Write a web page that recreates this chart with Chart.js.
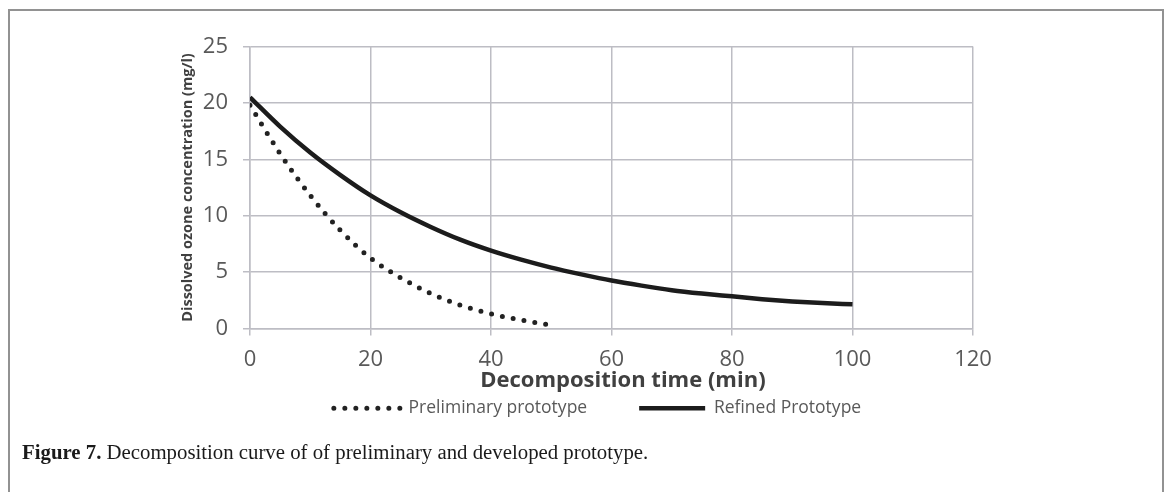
<!DOCTYPE html>
<html>
<head>
<meta charset="utf-8">
<script src="https://cdn.jsdelivr.net/npm/chart.js@4.4.1/dist/chart.umd.min.js"></script>
<style>
html, body { margin: 0; padding: 0; background: #fff; }
body { width: 1167px; height: 492px; position: relative; overflow: hidden; }
.frame { position: absolute; left: 8px; top: 9px; width: 1152px; height: 500px; border: 2px solid #929292; border-bottom: none; }
.plot { position: absolute; left: 0; top: 0; width: 1167px; height: 492px; }
.caption { position: absolute; left: 22px; top: 440px; font-family: "Liberation Serif", serif; font-size: 20.8px; color: #1a1a1a; white-space: nowrap; }
</style>
</head>
<body>
<div class="frame"></div>
<div class="plot"><canvas id="decayChart"></canvas></div>
<div class="caption"><b>Figure 7.</b> Decomposition curve of of preliminary and developed prototype.</div>
<script>
// valores
const xTicks = [0, 20, 40, 60, 80, 100, 120];
const yTicks = [0, 5, 10, 15, 20, 25];

const prelimTime = [0, 5, 10, 15, 20, 25, 30, 35, 40, 45, 50];
const prelimOzone = [19.8, 15.5, 11.8, 8.7, 6.25, 4.5, 3.1, 2.05, 1.3, 0.75, 0.3];

const refinedTime = [0, 5, 10, 15, 20, 25, 30, 35, 40, 45, 50, 55, 60, 65, 70, 75, 80, 85, 90, 95, 100];
const refinedOzone = [20.5, 17.9, 15.6, 13.6, 11.8, 10.3, 9.0, 7.85, 6.9, 6.1, 5.4, 4.8, 4.25, 3.8, 3.4, 3.1, 2.85, 2.6, 2.4, 2.25, 2.15];

const seriesNames = ['Preliminary prototype', 'Refined Prototype'];

const toPoints = (xs, ys) => xs.map((x, i) => ({ x: x, y: ys[i] }));

const gridColor = '#bdbdc4';
const tickFont = { family: 'Open Sans', size: 22 };

// move a legenda para a posição da figura original
const legendOffset = {
    id: 'legendOffset',
    afterLayout(chart) {
        const lg = chart.legend;
        if (!lg) return;
        lg.left += 26; lg.right += 26;
        lg.top -= 42; lg.bottom -= 42;
    }
};

const ctx = document.getElementById('decayChart').getContext('2d');
const decayChart = new Chart(ctx, {
    type: 'line',
    data: {
        datasets: [{
            label: seriesNames[0],
            data: toPoints(prelimTime, prelimOzone),
            borderColor: '#222222',
            backgroundColor: 'rgba(0,0,0,0)',
            borderWidth: 5,
            borderDash: [0, 11],
            borderCapStyle: 'round',
            pointRadius: 0,
            cubicInterpolationMode: 'monotone'
        }, {
            label: seriesNames[1],
            data: toPoints(refinedTime, refinedOzone),
            borderColor: '#1c1c1c',
            backgroundColor: 'rgba(0,0,0,0)',
            borderWidth: 4.5,
            pointRadius: 0,
            cubicInterpolationMode: 'monotone'
        }]
    },
    plugins: [legendOffset],
    options: {
        responsive: true,
        maintainAspectRatio: false,
        animation: false,
        layout: {
            padding: { left: 170, right: 194, top: 46.5, bottom: 23 }
        },
        plugins: {
            tooltip: { enabled: false },
            legend: {
                position: 'bottom',
                labels: {
                    boxWidth: 66,
                    boxHeight: 0,
                    padding: 52,
                    color: '#595959',
                    font: { family: 'Open Sans', size: 17.5 }
                }
            }
        },
        scales: {
            x: {
                type: 'linear',
                min: xTicks[0],
                max: xTicks[xTicks.length - 1],
                afterBuildTicks: (scale) => { scale.ticks = xTicks.map(v => ({ value: v })); },
                afterFit: (scale) => { scale.height = 61; },
                grid: { color: gridColor, lineWidth: 1.5, tickLength: 7 },
                border: { color: gridColor, width: 1.5 },
                ticks: { color: '#595959', font: tickFont, padding: 11, maxRotation: 0 },
                title: {
                    display: true,
                    text: '    Decomposition time (min)',
                    color: '#404040',
                    font: { family: 'Open Sans', size: 22, weight: 'bold' },
                    padding: { top: 0, bottom: -4 }
                }
            },
            y: {
                type: 'linear',
                min: yTicks[0],
                max: yTicks[yTicks.length - 1],
                afterBuildTicks: (scale) => { scale.ticks = yTicks.map(v => ({ value: v })); },
                afterFit: (scale) => { scale.width = 80; },
                grid: { color: gridColor, lineWidth: 1.5, tickLength: 7 },
                border: { color: gridColor, width: 1.5 },
                ticks: { color: '#595959', font: tickFont, padding: 15 },
                title: {
                    display: true,
                    text: 'Dissolved ozone concentration (mg/l)',
                    color: '#404040',
                    font: { family: 'Open Sans', size: 14.5, weight: 'bold' },
                    padding: { top: 9, bottom: 0 }
                }
            }
        }
    }
});
</script>
</body>
</html>
